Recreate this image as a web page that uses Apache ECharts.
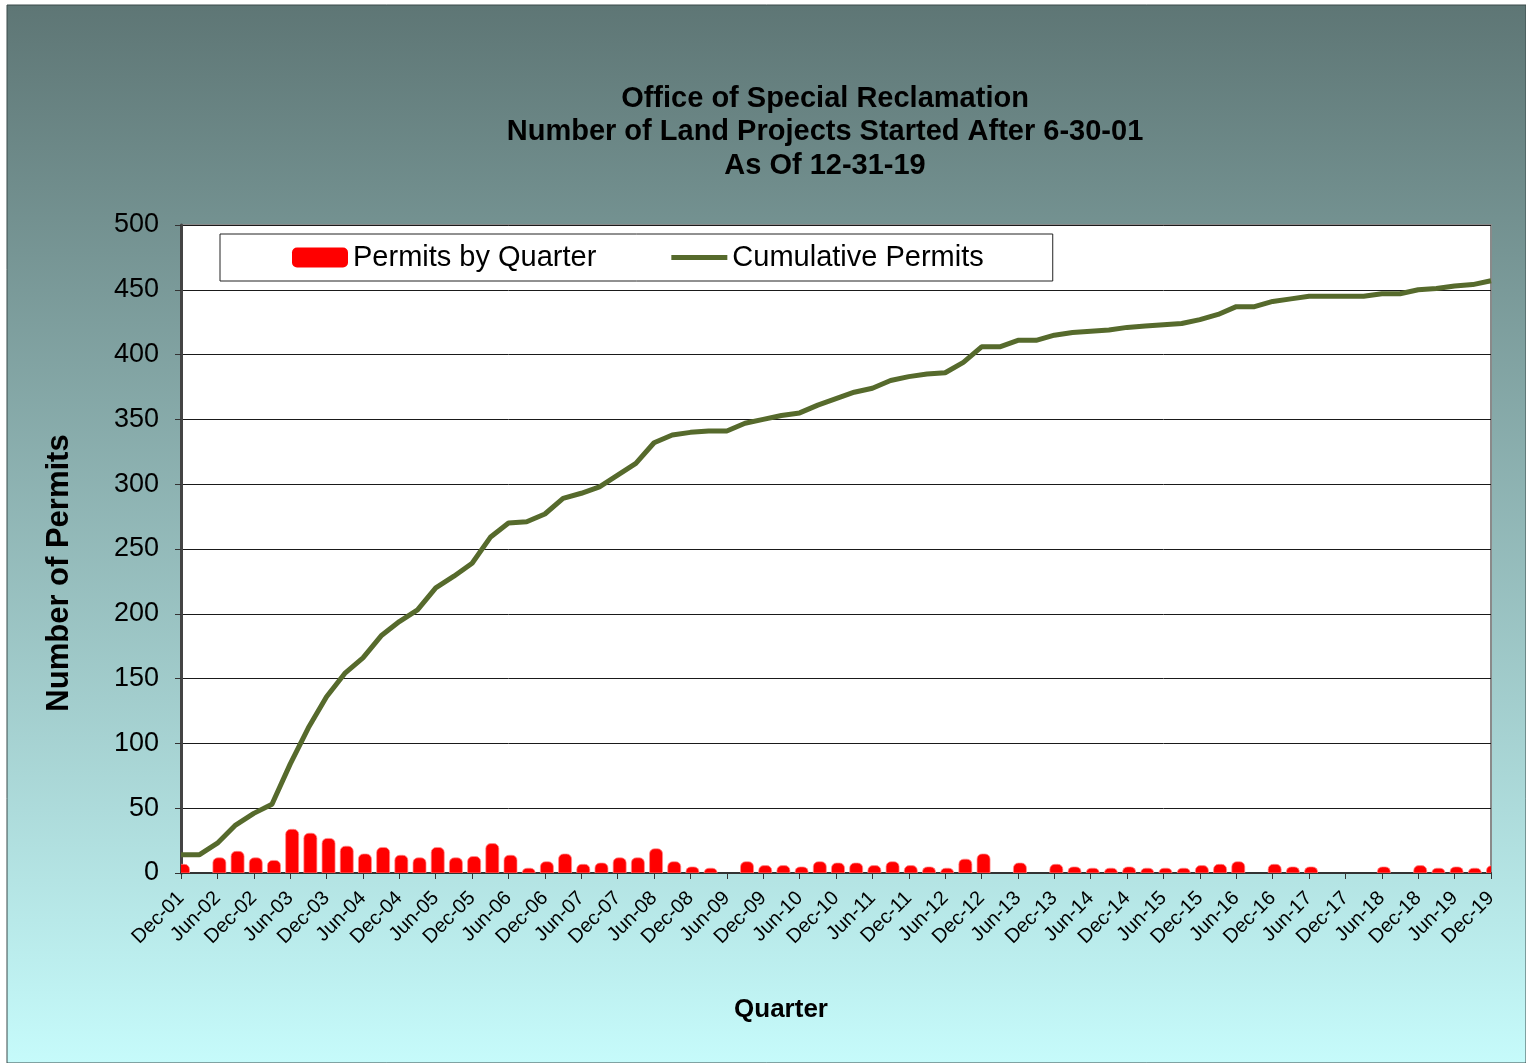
<!DOCTYPE html>
<html>
<head>
<meta charset="utf-8">
<title>Office of Special Reclamation</title>
<script src="https://cdn.jsdelivr.net/npm/echarts@6/dist/echarts.min.js"></script>
<style>
    html, body { margin: 0; padding: 0; background: #fff; }
    #chart { width: 1526px; height: 1063px; }
</style>
</head>
<body>
<div id="chart"></div>
<script>
    // quarters, Dec-01 .. Dec-19
    var quarters = [
        'Dec-01', 'Mar-02', 'Jun-02', 'Sep-02', 'Dec-02', 'Mar-03', 'Jun-03', 'Sep-03', 'Dec-03',
        'Mar-04', 'Jun-04', 'Sep-04', 'Dec-04', 'Mar-05', 'Jun-05', 'Sep-05', 'Dec-05',
        'Mar-06', 'Jun-06', 'Sep-06', 'Dec-06', 'Mar-07', 'Jun-07', 'Sep-07', 'Dec-07',
        'Mar-08', 'Jun-08', 'Sep-08', 'Dec-08', 'Mar-09', 'Jun-09', 'Sep-09', 'Dec-09',
        'Mar-10', 'Jun-10', 'Sep-10', 'Dec-10', 'Mar-11', 'Jun-11', 'Sep-11', 'Dec-11',
        'Mar-12', 'Jun-12', 'Sep-12', 'Dec-12', 'Mar-13', 'Jun-13', 'Sep-13', 'Dec-13',
        'Mar-14', 'Jun-14', 'Sep-14', 'Dec-14', 'Mar-15', 'Jun-15', 'Sep-15', 'Dec-15',
        'Mar-16', 'Jun-16', 'Sep-16', 'Dec-16', 'Mar-17', 'Jun-17', 'Sep-17', 'Dec-17',
        'Mar-18', 'Jun-18', 'Sep-18', 'Dec-18', 'Mar-19', 'Jun-19', 'Sep-19', 'Dec-19'
    ];

    var permitsByQuarter = [
        4, 0, 9, 14, 9, 7, 31, 28, 24, 18, 12, 17, 11, 9, 17, 9, 10, 20, 11, 1,
        6, 12, 4, 5, 9, 9, 16, 6, 2, 1, 0, 6, 3, 3, 2, 6, 5, 5, 3, 6,
        3, 2, 1, 8, 12, 0, 5, 0, 4, 2, 1, 1, 2, 1, 1, 1, 3, 4, 6, 0,
        4, 2, 2, 0, 0, 0, 2, 0, 3, 1, 2, 1, 3
    ];

    var cumulativePermits = [
        14, 14, 23, 37, 46, 53, 84, 112, 136, 154, 166, 183, 194, 203, 220, 229, 239, 259, 270, 271,
        277, 289, 293, 298, 307, 316, 332, 338, 340, 341, 341, 347, 350, 353, 355, 361, 366, 371, 374, 380,
        383, 385, 386, 394, 406, 406, 411, 411, 415, 417, 418, 419, 421, 422, 423, 424, 427, 431, 437, 437,
        441, 443, 445, 445, 445, 445, 447, 447, 450, 451, 453, 454, 457
    ];

    var titleLines = [
        'Office of Special Reclamation',
        'Number of Land Projects Started After 6-30-01',
        'As Of 12-31-19'
    ];

    var font = '"Liberation Sans", Arial, sans-serif';

    // Excel draws these bars with a rounded cap sitting a few px above the value
    function renderPermitBar(params, api) {
        var v = api.value(1);
        if (!v) {
            return;
        }
        var top = api.coord([api.value(0), v]);
        var base = api.coord([api.value(0), 0]);
        var w = 13;
        var cap = 3.5;
        return {
            type: 'rect',
            shape: {
                x: top[0] - w / 2 + 2,
                y: top[1] - cap,
                width: w,
                height: base[1] - top[1] + cap,
                r: [5, 5, 0, 0]
            },
            style: {
                fill: '#ff0000',
                stroke: 'rgba(255,140,140,0.7)',
                lineWidth: 1
            }
        };
    }

    var chart = echarts.init(document.getElementById('chart'));
    chart.setOption({
        animation: false,
        textStyle: { fontFamily: font },
        graphic: [
            {
                // outer chart frame with the teal gradient
                type: 'rect',
                z: -10,
                shape: { x: 7, y: 5, width: 1519, height: 1058 },
                style: {
                    fill: new echarts.graphic.LinearGradient(0, 0, 0, 1, [
                        { offset: 0, color: '#5e7675' },
                        { offset: 1, color: '#c6fbfb' }
                    ]),
                    stroke: '#3a4a4a',
                    lineWidth: 1
                }
            }
        ],
        title: {
            text: titleLines.join('\n'),
            left: 820,
            top: 77,
            textAlign: 'center',
            textStyle: {
                fontFamily: font,
                fontSize: 29,
                fontWeight: 'bold',
                lineHeight: 33.5,
                color: '#000'
            }
        },
        legend: {
            data: [
                { name: 'Permits by Quarter', icon: 'roundRect' },
                { name: 'Cumulative Permits', icon: 'path://M0,0 L56,0 L56,5 L0,5 Z' }
            ],
            left: 220,
            top: 234,
            padding: [9, 69, 9, 72],
            itemGap: 75,
            itemWidth: 56,
            itemHeight: 20,
            backgroundColor: '#fff',
            borderColor: '#222',
            borderWidth: 1,
            textStyle: { fontFamily: font, fontSize: 29, color: '#000' }
        },
        grid: {
            left: 181,
            top: 225,
            width: 1310,
            height: 648,
            show: true,
            backgroundColor: '#fff',
            borderColor: '#8a8a8a',
            borderWidth: 2
        },
        xAxis: {
            type: 'category',
            data: quarters,
            boundaryGap: false,
            name: 'Quarter',
            nameLocation: 'middle',
            nameGap: 124,
            nameTextStyle: {
                fontFamily: font,
                fontSize: 26,
                fontWeight: 'bold',
                color: '#000',
                padding: [0, 110, 0, 0]
            },
            axisLine: { lineStyle: { color: '#333', width: 2 } },
            axisTick: { show: true, interval: 1, length: 6, lineStyle: { color: '#333' } },
            axisLabel: {
                interval: 1,
                rotate: 45,
                margin: 22,
                fontSize: 20,
                color: '#000'
            },
            splitLine: { show: false }
        },
        yAxis: {
            type: 'value',
            min: 0,
            max: 500,
            interval: 50,
            name: 'Number of Permits',
            nameLocation: 'middle',
            nameRotate: 90,
            nameGap: 106,
            nameTextStyle: {
                fontFamily: font,
                fontSize: 31,
                fontWeight: 'bold',
                color: '#000',
                padding: [0, 48, 0, 0]
            },
            axisLine: { show: true, lineStyle: { color: '#444', width: 3 } },
            axisTick: { show: true, length: 6, lineStyle: { color: '#333' } },
            axisLabel: { fontSize: 27, color: '#000', margin: 22 },
            splitLine: { lineStyle: { color: '#1a1a1a', width: 1 } }
        },
        series: [
            {
                name: 'Permits by Quarter',
                type: 'custom',
                clip: true,
                renderItem: renderPermitBar,
                encode: { x: 0, y: 1 },
                data: permitsByQuarter.map(function (v, i) {
                    return [i, v];
                }),
                itemStyle: { color: '#ff0000' }
            },
            {
                name: 'Cumulative Permits',
                type: 'line',
                data: cumulativePermits,
                symbol: 'none',
                z: 3,
                lineStyle: { color: '#566a2c', width: 5 },
                itemStyle: { color: '#566a2c' }
            }
        ]
    });
</script>
</body>
</html>
